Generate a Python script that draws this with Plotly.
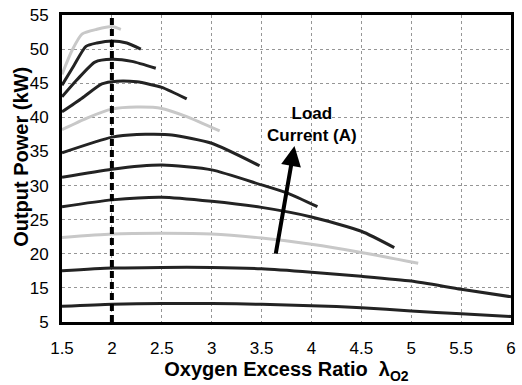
import plotly.graph_objects as go

# Curves: oxygen excess ratio (x) vs output power (kW) (y), ordered by load current
c1_x = [1.5, 2, 2.5, 3, 3.5, 4, 4.5, 5, 5.5, 6]
c1_y = [12.3, 12.6, 12.7, 12.7, 12.6, 12.4, 12.1, 11.6, 11.2, 10.8]
c2_x = [1.5, 2, 2.5, 3, 3.5, 4, 4.5, 5, 5.5, 6]
c2_y = [17.5, 17.9, 18.0, 18.0, 17.8, 17.3, 16.7, 16.0, 14.8, 13.7]
c3_x = [1.5, 2, 2.5, 3, 3.5, 4, 4.5, 5.07]
c3_y = [22.4, 22.9, 23.0, 22.9, 22.3, 21.4, 20.2, 18.6]
c4_x = [1.5, 2, 2.5, 3, 3.5, 4, 4.5, 4.83]
c4_y = [26.9, 27.9, 28.3, 27.7, 26.8, 25.4, 23.3, 20.9]
c5_x = [1.5, 2, 2.5, 3, 3.5, 3.76, 4.06]
c5_y = [31.2, 32.4, 33.0, 32.3, 30.1, 28.9, 26.9]
c6_x = [1.5, 2, 2.25, 2.6, 3, 3.48]
c6_y = [34.8, 37.1, 37.5, 37.4, 36.2, 32.9]
c7_x = [1.5, 1.75, 2, 2.25, 2.5, 2.75, 3.08]
c7_y = [38.2, 39.9, 41.2, 41.5, 41.3, 40.1, 38.0]
c8_x = [1.5, 1.7, 1.9, 2.05, 2.25, 2.5, 2.75]
c8_y = [40.8, 42.8, 44.9, 45.3, 45.2, 44.4, 42.7]
c9_x = [1.5, 1.65, 1.83, 2.0, 2.2, 2.44]
c9_y = [43.0, 45.5, 48.1, 48.5, 48.2, 47.2]
c10_x = [1.5, 1.62, 1.74, 1.85, 2.0, 2.15, 2.29]
c10_y = [44.7, 47.6, 50.4, 50.9, 51.2, 50.9, 50.0]
c11_x = [1.5, 1.6, 1.7, 1.85, 2.0, 2.09]
c11_y = [46.3, 49.8, 52.2, 52.9, 53.3, 52.9]

curves = [
    (c1_x, c1_y, "dark"), (c2_x, c2_y, "dark"), (c3_x, c3_y, "light"),
    (c4_x, c4_y, "dark"), (c5_x, c5_y, "dark"), (c6_x, c6_y, "dark"),
    (c7_x, c7_y, "light"), (c8_x, c8_y, "dark"), (c9_x, c9_y, "dark"),
    (c10_x, c10_y, "dark"), (c11_x, c11_y, "light"),
]

x_ticks = [1.5, 2, 2.5, 3, 3.5, 4, 4.5, 5, 5.5, 6]
x_ticktext = ["1.5", "2", "2.5", "3", "3.5", "4", "4.5", "5", "5.5", "6"]
y_ticks = [10, 15, 20, 25, 30, 35, 40, 45, 50, 55]
y_ticktext = ["5", "15", "20", "25", "30", "35", "40", "45", "50", "55"]
opt_ratio = 2.0

FONT = "Arial"

fig = go.Figure()
for cx, cy, shade in curves:
    color = "rgb(35,35,35)" if shade == "dark" else "rgb(200,200,200)"
    fig.add_trace(go.Scatter(x=cx, y=cy, mode="lines",
                             line=dict(color=color, width=3, shape="spline", smoothing=0.6),
                             showlegend=False, hoverinfo="skip"))

fig.add_trace(go.Scatter(x=[opt_ratio, opt_ratio], y=[10, 55], mode="lines",
                         line=dict(color="black", width=4, dash="7px,4px"),
                         showlegend=False, hoverinfo="skip"))

fig.add_annotation(x=3.83, y=35.8, ax=3.64, ay=19.8, xref="x", yref="y",
                   axref="x", ayref="y", text="", showarrow=True,
                   arrowhead=2, arrowsize=1.0, arrowwidth=4, arrowcolor="black")
fig.add_annotation(x=4.01, y=38.9, xref="x", yref="y", text="<b>Load<br>Current (A)</b>",
                   showarrow=False, font=dict(family=FONT, size=17, color="black"),
                   align="center")
# y-axis title placed as a rotated annotation to match the reference position
fig.add_annotation(x=-0.092, y=0.537, xref="paper", yref="paper",
                   text="<b>Output Power (kW)</b>", textangle=-90, showarrow=False,
                   xanchor="center", yanchor="middle",
                   font=dict(family=FONT, size=20, color="black"))

axis_common = dict(showgrid=True, gridcolor="rgb(150,150,150)", griddash="dot", gridwidth=1,
                   showline=True, linecolor="black", linewidth=3, mirror=True,
                   ticks="", zeroline=False,
                   tickfont=dict(family=FONT, size=17, color="black"))

fig.update_layout(
    width=522, height=385,
    margin=dict(l=62, r=6, t=11, b=63),
    paper_bgcolor="white", plot_bgcolor="white",
    xaxis=dict(range=[1.5, 6], tickvals=x_ticks, ticktext=x_ticktext,
               ticklabelstandoff=9,
               title=dict(text="<b>Oxygen Excess Ratio  λ<sub>O2</sub></b>",
                          font=dict(family=FONT, size=20, color="black"), standoff=3),
               **axis_common),
    yaxis=dict(range=[10, 55], tickvals=y_ticks, ticktext=y_ticktext,
               ticklabelstandoff=7,
               **axis_common),
)

fig.write_html("out.html")
